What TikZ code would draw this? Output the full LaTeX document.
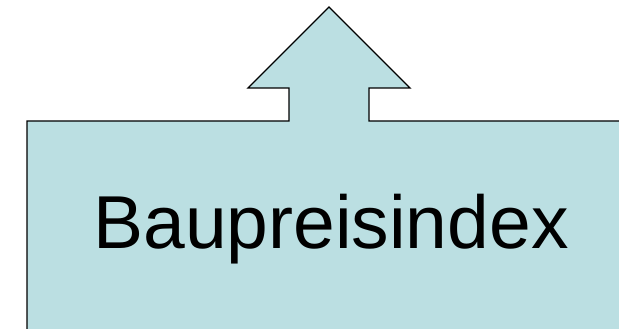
\documentclass[tikz,border=0pt]{standalone}
\usepackage{fontspec}
\setmainfont{Liberation Sans}
\definecolor{boxfill}{RGB}{187,223,226}
\tikzset{shapeline/.style={draw=black, line width=1.3pt, fill=boxfill, line join=miter},
  bigtext/.style={inner sep=0pt, font=\fontsize{75}{80}\selectfont}}
\begin{document}
\begin{tikzpicture}[x=1pt,y=1pt]
\useasboundingbox (0,0) rectangle (619,329);
\draw[shapeline] (27,-5) -- (27,208) -- (289,208) -- (289,241) -- (248,241) -- (329,322) -- (410,241) -- (369,241) -- (369,208) -- (630,208) -- (630,-5) -- cycle;
\node[bigtext, anchor=base] (label) at (331,80) {Baupreisindex};
\end{tikzpicture}
\end{document}
